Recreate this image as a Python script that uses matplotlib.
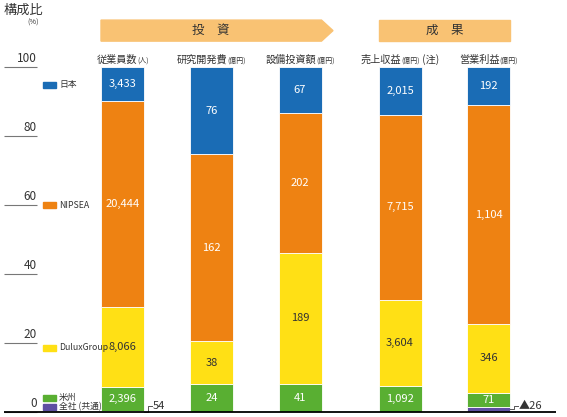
import matplotlib
matplotlib.use("Agg")
import matplotlib.pyplot as plt
from matplotlib.patches import Rectangle, Polygon

plt.rcParams['font.family'] = ['Noto Sans CJK JP', 'DejaVu Sans']

# ---------------- data ----------------
categories = ["従業員数", "研究開発費", "設備投資額", "売上収益", "営業利益"]
units = ["(人)", "(億円)", "(億円)", "(億円)", "(億円)"]
notes = ["", "", "", " (注)", ""]
regions = ["日本", "NIPSEA", "DuluxGroup", "米州", "全社 (共通)"]
japan = [3433, 76, 67, 2015, 192]
nipsea = [20444, 162, 202, 7715, 1104]
dulux = [8066, 38, 189, 3604, 346]
americas = [2396, 24, 41, 1092, 71]
corporate = [54, 0, 0, 0, -26]
yticks = [0, 20, 40, 60, 80, 100]
group_labels = ["投　資", "成　果"]

# ---------------- layout / style ----------------
colors = ["#1A6CB5", "#EE8212", "#FFE015", "#59AF32", "#5E4FA2"]
text_colors = ["white", "white", "#333333", "white", "white"]
xpos = [122.5, 211.5, 300.0, 400.0, 488.5]
bar_w = 43
banner_color = "#F9C273"
dark = "#333333"

fig = plt.figure(figsize=(5.67, 4.17), dpi=100)
ax = fig.add_axes([0, 5 / 417, 1, 345 / 417])
ax.set_xlim(0, 567)
ax.set_ylim(0, 100)
ax.axis('off')

series = [japan, nipsea, dulux, americas, corporate]
# stacking order bottom -> top: corporate, americas, dulux, nipsea, japan
order = [4, 3, 2, 1, 0]
for i in range(len(categories)):
    vals = [abs(s[i]) for s in series]
    total = sum(vals)
    bottom = 0.0
    for k in order:
        pct = vals[k] / total * 100
        if pct <= 0:
            continue
        ax.bar(xpos[i], pct, bottom=bottom, width=bar_w, color=colors[k],
               edgecolor='white', linewidth=0.6)
        if k != 4:
            ax.text(xpos[i], bottom + pct / 2, f"{series[k][i]:,}", ha='center',
                    va='center', fontsize=8, color=text_colors[k])
        else:
            right = xpos[i] + bar_w / 2
            y0 = pct / 2
            y1 = 1.75
            ax.plot([right, right + 3.5, right + 3.5, right + 7.5],
                    [y0, y0, y1, y1], color='#555555', lw=0.7, clip_on=False)
            v = series[k][i]
            lab = f"{v:,}" if v >= 0 else f"▲{abs(v):,}"
            ax.text(right + 9, y1, lab, ha='left', va='center', fontsize=8,
                    color=dark, clip_on=False)
        bottom += pct

# y ticks
ax.hlines(yticks, 4, 37, color='#777777', lw=0.8, clip_on=False)
for t in yticks:
    ax.text(37, t + 0.6, str(t), ha='right', va='bottom', fontsize=8.5, color=dark)
ax.hlines(0, 4, 556, color='black', lw=1.3, clip_on=False)

# legend
leg_y = [94.8, 60.0, 18.6, 4.1, 1.4]
for k, name in enumerate(regions):
    ax.add_patch(Rectangle((43, leg_y[k] - 0.85), 13, 1.7, color=colors[k],
                           clip_on=False))
    ax.text(59, leg_y[k], name, ha='left', va='center', fontsize=6.3, color=dark)

# category labels (main + smaller unit)
renderer = fig.canvas.get_renderer()
label_y = 101.3
for i, cat in enumerate(categories):
    t1 = ax.text(0, label_y, cat, fontsize=7.3, va='baseline', color=dark, clip_on=False)
    t2 = ax.text(0, label_y, units[i], fontsize=5, va='baseline', color=dark, clip_on=False)
    t3 = ax.text(0, label_y, notes[i], fontsize=7.3, va='baseline', color=dark, clip_on=False)
    w1 = t1.get_window_extent(renderer).width
    w2 = t2.get_window_extent(renderer).width
    w3 = t3.get_window_extent(renderer).width if notes[i] else 0
    x0 = xpos[i] - (w1 + w2 + w3) / 2
    t1.set_x(x0)
    t2.set_x(x0 + w1)
    t3.set_x(x0 + w1 + w2)

# group banners
yb0, yb1 = 107.5, 113.6
# investment: bars 0..2, arrow-shaped
l0 = xpos[0] - bar_w / 2
r0 = xpos[2] + bar_w / 2
ax.add_patch(Polygon([(l0, yb0), (r0, yb0), (r0 + 11.5, (yb0 + yb1) / 2),
                      (r0, yb1), (l0, yb1)], closed=True, color=banner_color,
                     clip_on=False))
ax.text((l0 + r0) / 2, (yb0 + yb1) / 2, group_labels[0], ha='center', va='center',
        fontsize=9, color=dark)
l1 = xpos[3] - bar_w / 2
r1 = xpos[4] + bar_w / 2
ax.add_patch(Rectangle((l1, yb0), r1 - l1, yb1 - yb0, color=banner_color,
                       clip_on=False))
ax.text((l1 + r1) / 2, (yb0 + yb1) / 2, group_labels[1], ha='center', va='center',
        fontsize=9, color=dark)

# title
ax.text(4, 116.5, "構成比", ha='left', va='center', fontsize=9.5, color=dark, clip_on=False)
ax.text(27, 112.9, "(%)", ha='left', va='center', fontsize=5.3, color=dark, clip_on=False)

fig.savefig("out.png", dpi=100)
